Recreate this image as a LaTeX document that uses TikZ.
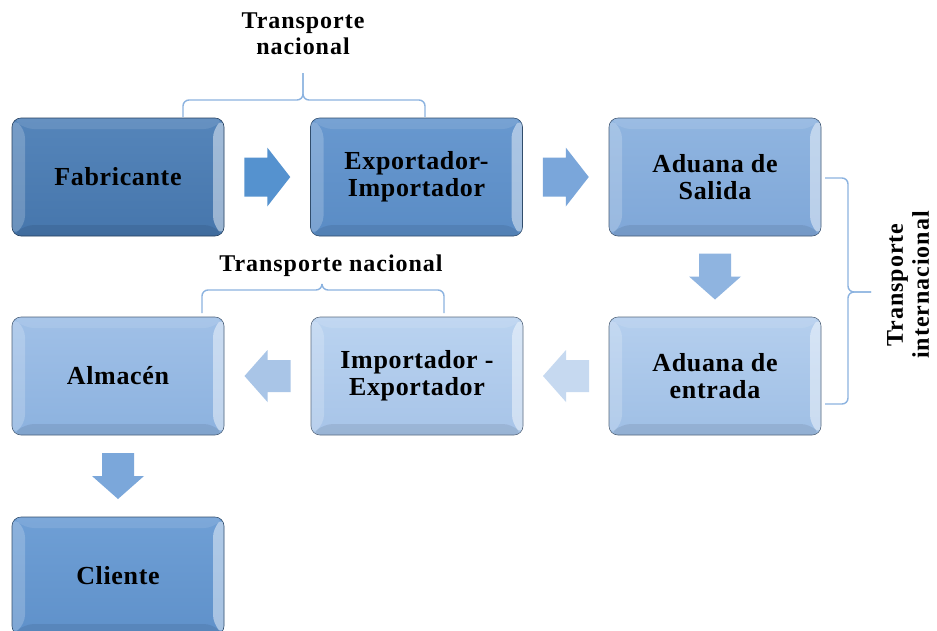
\documentclass[tikz,border=0pt]{standalone}
\usepackage{fontspec}
\setmainfont{Liberation Serif}[LetterSpace=4]
\newfontfamily\boxfont{Liberation Serif}[LetterSpace=2.5]
\usetikzlibrary{calc}
\definecolor{cFab}{HTML}{4676AC}
\definecolor{cFabT}{HTML}{5585BA}
\definecolor{cExp}{HTML}{5A8CC5}
\definecolor{cExpT}{HTML}{6898CF}
\definecolor{cSal}{HTML}{7FA7D8}
\definecolor{cSalT}{HTML}{90B5E0}
\definecolor{cEnt}{HTML}{9FBFE5}
\definecolor{cEntT}{HTML}{B5CFEE}
\definecolor{cImp}{HTML}{A7C4E8}
\definecolor{cImpT}{HTML}{BAD3F0}
\definecolor{cAlm}{HTML}{8CB2DF}
\definecolor{cAlmT}{HTML}{A0C0E7}
\definecolor{cCli}{HTML}{5F91CA}
\definecolor{cCliT}{HTML}{6F9FD5}
\definecolor{cBrace}{HTML}{8CB3E0}
\definecolor{aA}{HTML}{5592CF}
\definecolor{aB}{HTML}{7AA6DA}
\definecolor{aC}{HTML}{8FB4E0}
\definecolor{aD}{HTML}{C6D9F0}
\definecolor{aE}{HTML}{A9C5E7}
\definecolor{aF}{HTML}{7BA7DA}
\tikzset{
  bevbox/.style 2 args={rounded corners=9pt, minimum width=212pt, minimum height=118pt,
    inner sep=0pt, align=center, draw=#1!55!black, line width=0.6pt,
    top color=#2, bottom color=#1,
    font=\boxfont\bfseries\fontsize{26}{27}\selectfont,
    path picture={
      \fill[white,opacity=.45] (path picture bounding box.north east) -- (path picture bounding box.south east)
        -- ([shift={(-11pt,11pt)}]path picture bounding box.south east) -- ([shift={(-11pt,-11pt)}]path picture bounding box.north east) -- cycle;
      \fill[white,opacity=.2] (path picture bounding box.north west) -- (path picture bounding box.south west)
        -- ([shift={(13pt,11pt)}]path picture bounding box.south west) -- ([shift={(13pt,-11pt)}]path picture bounding box.north west) -- cycle;
      \fill[white,opacity=.1] (path picture bounding box.north west) -- (path picture bounding box.north east)
        -- ([shift={(-11pt,-11pt)}]path picture bounding box.north east) -- ([shift={(13pt,-11pt)}]path picture bounding box.north west) -- cycle;
      \fill[black,opacity=.08] (path picture bounding box.south west) -- (path picture bounding box.south east)
        -- ([shift={(-11pt,11pt)}]path picture bounding box.south east) -- ([shift={(13pt,11pt)}]path picture bounding box.south west) -- cycle;
    }},
  bigarrow/.pic={\fill[pic actions] (-23,-19.5) -- (0,-19.5) -- (0,-29.5) -- (23,0) -- (0,29.5) -- (0,19.5) -- (-23,19.5) -- cycle;},
  smallarrow/.pic={\fill[pic actions] (-23,-16) -- (0,-16) -- (0,-26) -- (23,0) -- (0,26) -- (0,16) -- (-23,16) -- cycle;},
  bracestyle/.style={draw=cBrace, line width=1.4pt, rounded corners=6pt},
  lbl/.style={font=\bfseries\fontsize{24}{26}\selectfont, align=center, inner sep=0pt}
}
\begin{document}
\begin{tikzpicture}[x=1pt,y=-1pt]
\useasboundingbox[fill=white] (0,0) rectangle (937,630);
% boxes
\node[bevbox={cFab}{cFabT}] (fab) at (118,177) {Fabricante};
\node[bevbox={cExp}{cExpT}] (exp) at (416.5,177) {Exportador-\\Importador};
\node[bevbox={cSal}{cSalT}] (sal) at (715,177) {Aduana de\\Salida};
\node[bevbox={cEnt}{cEntT}] (ent) at (715,376) {Aduana de\\entrada};
\node[bevbox={cImp}{cImpT}] (imp) at (417,376) {Importador -\\Exportador};
\node[bevbox={cAlm}{cAlmT}] (alm) at (118,376) {Almacén};
\node[bevbox={cCli}{cCliT}] (cli) at (118,576) {Cliente};
% block arrows
\pic[fill=aA] at ($(fab.east)!0.5!(exp.west)$) {bigarrow};
\pic[fill=aB] at ($(exp.east)!0.5!(sal.west)$) {bigarrow};
\pic[fill=aC, rotate=-90] at ($(sal.south)!0.5!(ent.north)$) {smallarrow};
\pic[fill=aD, rotate=180] at ($(ent.west)!0.5!(imp.east)$) {smallarrow};
\pic[fill=aE, rotate=180] at ($(imp.west)!0.5!(alm.east)$) {smallarrow};
\pic[fill=aF, rotate=-90] at ($(alm.south)!0.5!(cli.north)$) {smallarrow};
% braces
\coordinate (b1l) at (183,117);
\coordinate (b1r) at (425,117);
\coordinate (b1t) at (303,73);
\draw[bracestyle] (b1l) -- (183,100) -- (303,100) -- (b1t);
\draw[bracestyle] (b1r) -- (425,100) -- (303,100) -- (b1t);
\coordinate (b2l) at (202,313);
\coordinate (b2r) at (444,313);
\coordinate (b2t) at (322,284);
\draw[bracestyle] (b2l) -- (202,290) -- (322,290) -- (b2t);
\draw[bracestyle] (b2r) -- (444,290) -- (322,290) -- (b2t);
\coordinate (b3t) at (825,178);
\coordinate (b3b) at (825,404);
\coordinate (b3m) at (871,292);
\draw[bracestyle] (b3t) -- (848,178) -- (848,292) -- (b3m);
\draw[bracestyle] (b3b) -- (848,404) -- (848,292) -- (b3m);
% labels
\node[lbl] (l1) at (303,34) {Transporte\\nacional};
\node[lbl] (l2) at (331,266) {Transporte nacional};
\node[lbl, rotate=90] (l3) at (908,285) {Transporte\\internacional};
\end{tikzpicture}
\end{document}
